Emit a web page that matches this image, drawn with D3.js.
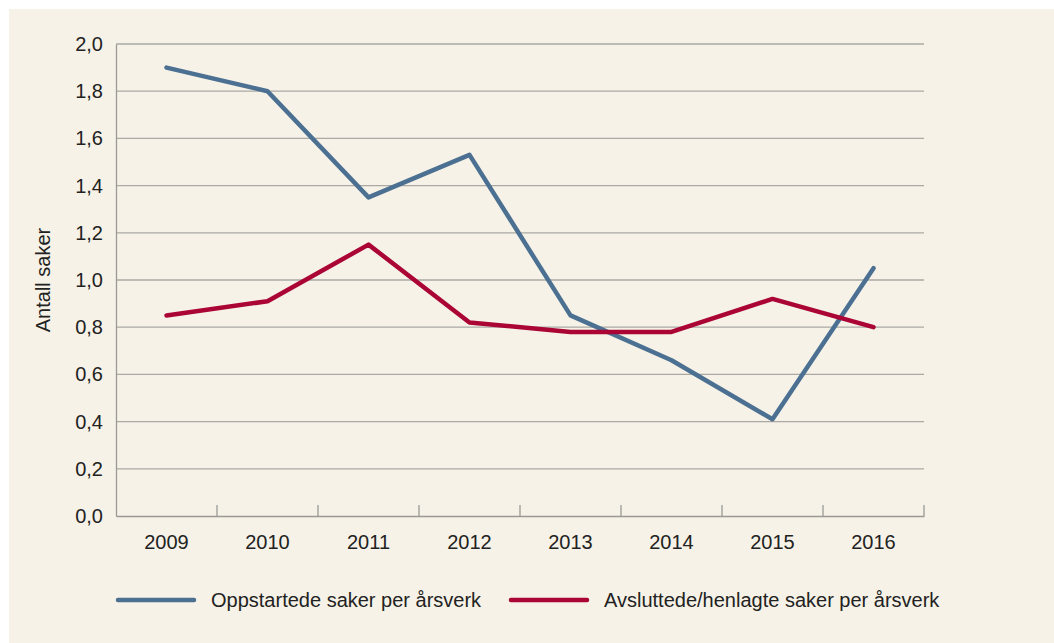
<!DOCTYPE html>
<html>
<head>
<meta charset="utf-8">
<script src="https://cdn.jsdelivr.net/npm/d3@7"></script>
<style>
  body { margin: 0; background: #fff; }
  text { font-family: "Liberation Sans", Arial, sans-serif; fill: #222; }
</style>
</head>
<body>
<div id="chart"></div>
<script>
// data
var years = ["2009", "2010", "2011", "2012", "2013", "2014", "2015", "2016"];
var oppstartede = [1.90, 1.80, 1.35, 1.53, 0.85, 0.66, 0.41, 1.05];
var avsluttede = [0.85, 0.91, 1.15, 0.82, 0.78, 0.78, 0.92, 0.80];
var yTicks = [0, 0.2, 0.4, 0.6, 0.8, 1.0, 1.2, 1.4, 1.6, 1.8, 2.0];
var seriesNames = ["Oppstartede saker per årsverk", "Avsluttede/henlagte saker per årsverk"];
var colors = ["#4b7092", "#aa0535"];

var width = 1054, height = 643;
var plotLeft = 116, plotRight = 924, plotTop = 44, plotBottom = 516;
var fontSize = 20;

var svg = d3.select("#chart").append("svg")
    .attr("width", width)
    .attr("height", height);

// cream panel
svg.append("rect")
    .attr("x", 9).attr("y", 9)
    .attr("width", width - 9).attr("height", height - 9)
    .attr("fill", "#f6f2e7");

var x = d3.scaleBand().domain(years).range([plotLeft, plotRight]);
var y = d3.scaleLinear().domain([0, 2]).range([plotBottom, plotTop]);

var fmt = function(d) { return d3.format(".1f")(d).replace(".", ","); };

// gridlines
svg.append("g").selectAll("line")
    .data(yTicks.filter(function(d) { return d > 0; }))
    .enter().append("line")
    .attr("x1", plotLeft).attr("x2", plotRight)
    .attr("y1", function(d) { return y(d); })
    .attr("y2", function(d) { return y(d); })
    .attr("stroke", "#aaa9a4")
    .attr("stroke-width", 1.3);

// y axis
var yAxis = svg.append("g")
    .attr("transform", "translate(" + plotLeft + ",0)")
    .call(d3.axisLeft(y).tickValues(yTicks).tickFormat(fmt).tickSize(0).tickPadding(13));
yAxis.select(".domain").attr("stroke", "#9a9995").attr("stroke-width", 1.3);
yAxis.selectAll("text").attr("font-size", fontSize).attr("fill", "#222");

// x axis, ticks pointing up at band boundaries
var xAxis = svg.append("g")
    .attr("transform", "translate(0," + plotBottom + ")")
    .call(d3.axisBottom(x).tickSize(0).tickPadding(19));
xAxis.select(".domain").attr("stroke", "#9a9995").attr("stroke-width", 1.3);
xAxis.selectAll("text").attr("font-size", fontSize).attr("fill", "#222");

svg.append("g").selectAll("line")
    .data(years)
    .enter().append("line")
    .attr("x1", function(d) { return x(d) + x.step(); })
    .attr("x2", function(d) { return x(d) + x.step(); })
    .attr("y1", plotBottom).attr("y2", plotBottom - 11)
    .attr("stroke", "#9a9995")
    .attr("stroke-width", 1.3);

// y title
svg.append("text")
    .attr("transform", "translate(50," + y(1) + ") rotate(-90)")
    .attr("text-anchor", "middle")
    .attr("font-size", fontSize)
    .text("Antall saker");

// lines
var line = d3.line()
    .x(function(d, i) { return x(years[i]) + x.bandwidth() / 2; })
    .y(function(d) { return y(d); });

[oppstartede, avsluttede].forEach(function(s, i) {
  svg.append("path")
      .datum(s)
      .attr("d", line)
      .attr("fill", "none")
      .attr("stroke", colors[i])
      .attr("stroke-width", 4.5)
      .attr("stroke-linecap", "round")
      .attr("stroke-linejoin", "round");
});

// legend
var legendX = [118, 511];
var legend = svg.append("g").selectAll("g")
    .data(seriesNames)
    .enter().append("g")
    .attr("transform", function(d, i) { return "translate(" + legendX[i] + ",600)"; });
legend.append("line")
    .attr("x1", 0).attr("x2", 76)
    .attr("stroke", function(d, i) { return colors[i]; })
    .attr("stroke-width", 4.5)
    .attr("stroke-linecap", "round");
legend.append("text")
    .attr("x", 93).attr("dy", "0.35em")
    .attr("font-size", fontSize)
    .text(function(d) { return d; });
</script>
</body>
</html>
